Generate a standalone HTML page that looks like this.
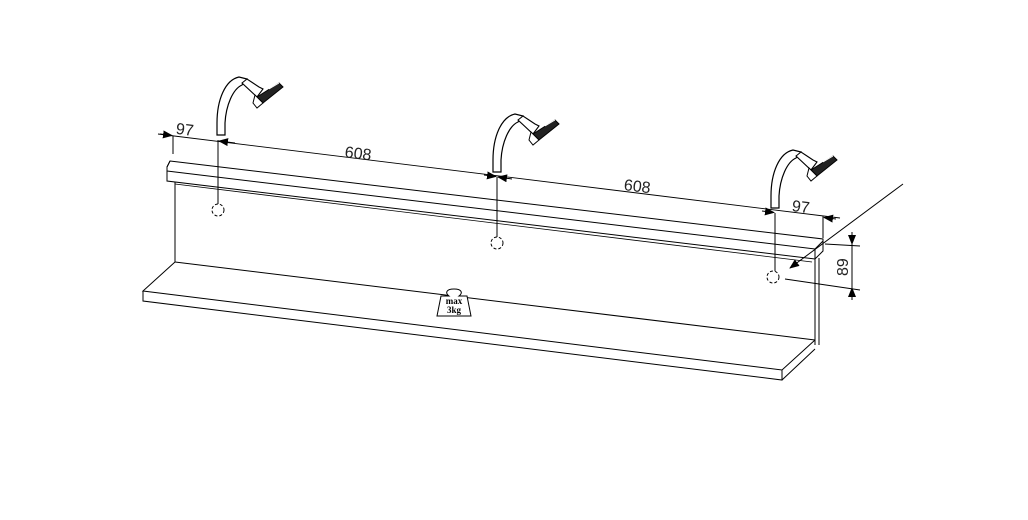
<!DOCTYPE html>
<html><head><meta charset="utf-8"><style>html,body{margin:0;padding:0;background:#fff}svg{display:block}</style></head>
<body>
<svg width="1028" height="520" viewBox="0 0 1028 520" xmlns="http://www.w3.org/2000/svg" font-family="Liberation Sans, sans-serif">
<defs>
<g id="arm">
  <path d="M0,0 L0,-12 C0,-35 8,-55 22,-58 L30,-56 L25,-50 C16,-46 9,-30 8,-12 L8,0 Z" fill="#fff" stroke="#000" stroke-width="1.2"/>
  <path d="M25,-52 L30,-56 L36,-52 L42,-48 L46,-46 L40,-38 Z" fill="#fff" stroke="#000" stroke-width="1.1"/>
  <path d="M40,-38 L62,-52 L66,-48 L46,-32 Z" fill="#222" stroke="#000" stroke-width="1"/>
  <path d="M52,-46 L62,-52" stroke="#fff" stroke-width="1"/>
  <path d="M38,-40 L46,-32 L40,-27 L36,-32 Z" fill="#fff" stroke="#000" stroke-width="1"/>
</g>
<marker id="ar" markerWidth="10" markerHeight="8" refX="9" refY="4" orient="auto" markerUnits="userSpaceOnUse"><path d="M0,0 L10,4 L0,8 Z" fill="#000"/></marker>
</defs>
<g fill="none" stroke="#000" stroke-width="1">
  <path d="M170,161 L823,239 L823,251 L815,259 L167,181 L167,167 Z" fill="#fff"/>
  <path d="M167,167 L170,161"/>
  <path d="M167,171 L815,249 L823,241"/>
  <path d="M815,249 L815,259"/>
  <path d="M175,184 L812,262" stroke-width="0.8"/>
  <path d="M175,182 L175,262"/>
  <path d="M815,259 L815,345 M819,258 L819,345"/>
  <path d="M175,262 L815,340"/>
  <path d="M175,262 L143,291 L782,370 L815,340"/>
  <path d="M143,291 L143,301 L782,380 L782,370"/>
  <path d="M782,380 L815,349"/>
  <circle cx="218" cy="210" r="6" stroke-dasharray="3,2"/>
  <circle cx="497" cy="243" r="6" stroke-dasharray="3,2"/>
  <circle cx="773" cy="277" r="6" stroke-dasharray="3,2"/>
  <path d="M218,140 L218,204 M497,177 L497,237 M775,213 L775,271"/>
  <path d="M158,134 L840,218" stroke-width="0.9"/>
  <path d="M173,136 L173,154"/>
  <path d="M823,216 L823,238"/>
  <path d="M160,134 L172,135.5" marker-end="url(#ar)"/>
  <path d="M235,143 L219,141" marker-end="url(#ar)"/>
  <path d="M484,175 L496,176.5" marker-end="url(#ar)"/>
  <path d="M512,179 L498,177" marker-end="url(#ar)"/>
  <path d="M762,211 L774,212.5" marker-end="url(#ar)"/>
  <path d="M836,219 L824,217.5" marker-end="url(#ar)"/>
  <path d="M825,244 L860,246 M785,279 L860,290"/>
  <path d="M852,232 L852,300"/>
  <path d="M852,232 L852,244" marker-end="url(#ar)"/>
  <path d="M852,300 L852,288" marker-end="url(#ar)"/>
  <path d="M903,184 L790,268" marker-end="url(#ar)"/>
  <path d="M441,296 L437,316 L471,316 L467,296 L459,296 C463,293 462,289 454,289 C446,289 445,293 449,296 Z" fill="#fff"/>
</g>
<use href="#arm" x="217" y="135"/>
<use href="#arm" x="493" y="172"/>
<use href="#arm" x="771" y="208"/>
<g font-size="16" fill="#222">
  <text x="176" y="135" transform="rotate(7 186 129)">97</text>
  <text x="345" y="159" transform="rotate(7 360 152)">608</text>
  <text x="624" y="192" transform="rotate(7 640 186)">608</text>
  <text x="792" y="212" transform="rotate(7 800 206)">97</text>
  <text x="0" y="0" transform="translate(848,276) rotate(-90)">89</text>
</g>
<g font-family="Liberation Serif, serif" font-size="9" font-weight="bold" text-anchor="middle">
  <text x="454" y="304">max</text>
  <text x="454" y="313">3kg</text>
</g>
</svg>
</body></html>
